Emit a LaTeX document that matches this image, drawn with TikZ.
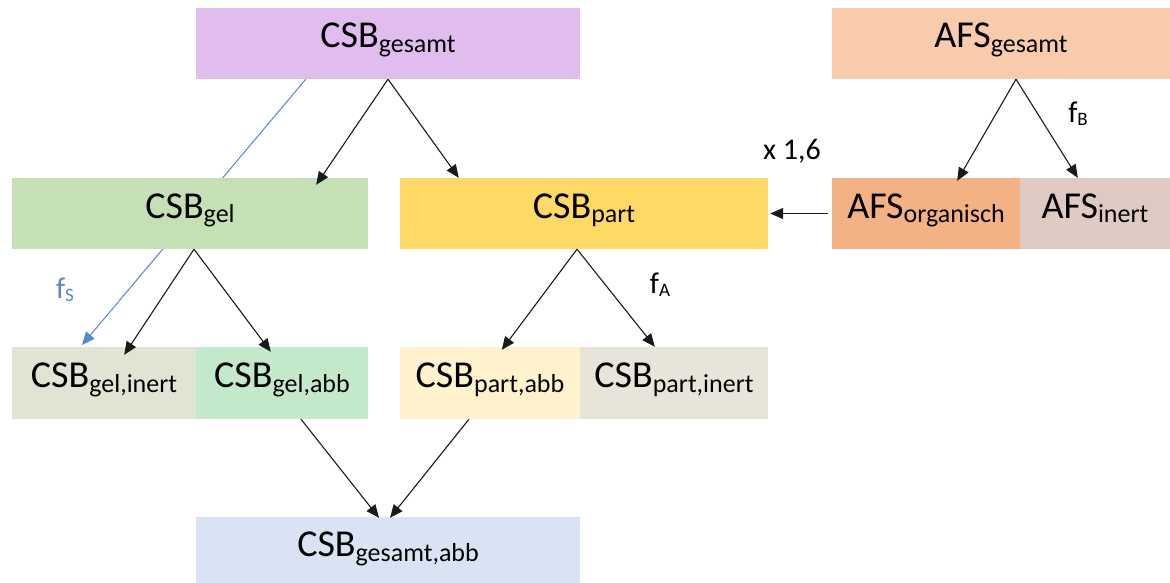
\documentclass[tikz,border=0pt]{standalone}
\usepackage{fontspec}
\setmainfont{Carlito}
\usetikzlibrary{arrows.meta}
\definecolor{cPurple}{HTML}{E1BDEF}
\definecolor{cPeach}{HTML}{F8CBAD}
\definecolor{cGreen}{HTML}{C5E0B4}
\definecolor{cYellow}{HTML}{FFD966}
\definecolor{cOrange}{HTML}{F4B183}
\definecolor{cRose}{HTML}{DFCAC3}
\definecolor{cGreyGreen}{HTML}{E0E4D3}
\definecolor{cMint}{HTML}{C4E8CA}
\definecolor{cCream}{HTML}{FFF2CC}
\definecolor{cBeige}{HTML}{E7E4D9}
\definecolor{cBlueBox}{HTML}{DAE3F3}
\definecolor{cBlueLine}{HTML}{5586D3}
\definecolor{cLine}{HTML}{1A1A1A}
\newcommand{\bigtxt}[2]{\fontsize{38}{38}\selectfont #1\raisebox{-5pt}{\fontsize{26}{26}\selectfont #2}}
\newcommand{\smalltxt}[2]{\fontsize{30}{30}\selectfont #1\raisebox{-3pt}{\fontsize{19}{19}\selectfont #2}}
\begin{document}
\begin{tikzpicture}[x=1pt,y=-1pt,
  box/.style={draw=none, inner sep=0pt, text height=21pt, text depth=12pt},
  arr/.style={draw=cLine, line width=1.1pt, -{Triangle[length=13pt,width=11pt]}},
  barr/.style={draw=cBlueLine, line width=1pt, -{Triangle[length=13pt,width=11pt]}},
  lab/.style={inner sep=0pt}]
\useasboundingbox (0,0) rectangle (1170,583);
\fill[white] (0,0) rectangle (1170,583);
% boxes
\node[box, fill=cPurple, minimum width=384pt, minimum height=71pt] (gesamt) at (388,43.5) {\bigtxt{CSB}{gesamt}};
\node[box, fill=cPeach, minimum width=338pt, minimum height=71pt] (afsg) at (1001,43.5) {\bigtxt{AFS}{gesamt}};
% blue line drawn behind gel box
\draw[barr] ([xshift=110pt]gesamt.south west) coordinate (bstart) -- (82,345) coordinate (bend);
\node[box, fill=cGreen, minimum width=356pt, minimum height=71pt] (gel) at (190,213.5) {\bigtxt{CSB}{gel}};
\node[box, fill=cYellow, minimum width=368pt, minimum height=71pt] (part) at (584,213.5) {\bigtxt{CSB}{part}};
\node[box, fill=cOrange, minimum width=188pt, minimum height=71pt] (afso) at (926,213.5) {\bigtxt{AFS}{organisch}};
\node[box, fill=cRose, minimum width=150pt, minimum height=71pt] (afsi) at (1095,213.5) {\bigtxt{AFS}{inert}};
\node[box, fill=cGreyGreen, minimum width=184pt, minimum height=72pt] (gelinert) at (104,383) {\bigtxt{CSB}{gel,inert}};
\node[box, fill=cMint, minimum width=172pt, minimum height=72pt] (gelabb) at (282,383) {\bigtxt{CSB}{gel,abb}};
\node[box, fill=cCream, minimum width=180pt, minimum height=72pt] (partabb) at (490,383) {\bigtxt{CSB}{part,abb}};
\node[box, fill=cBeige, minimum width=188pt, minimum height=72pt] (partinert) at (674,383) {\bigtxt{CSB}{part,inert}};
\node[box, fill=cBlueBox, minimum width=384pt, minimum height=70pt] (total) at (388,552) {\bigtxt{CSB}{gesamt,abb}};
% arrows
\draw[arr] (gesamt.south) -- ([xshift=-52pt,yshift=-7pt]gel.north east);
\draw[arr] (gesamt.south) -- ([xshift=59pt]part.north west);
\draw[arr] ([xshift=15pt]afsg.south) -- ([xshift=-63pt,yshift=-3pt]afso.north east);
\draw[arr] ([xshift=15pt]afsg.south) -- ([xshift=58pt]afsi.north west);
\draw[arr] ([xshift=4pt]gel.south) -- ([xshift=-72pt,yshift=-8pt]gelinert.north east);
\draw[arr] ([xshift=4pt]gel.south) -- ([xshift=75pt,yshift=-5pt]gelabb.north west);
\draw[arr] ([xshift=-7pt]part.south) -- ([xshift=102pt,yshift=-3pt]partabb.north west);
\draw[arr] ([xshift=-7pt]part.south) -- ([xshift=75pt]partinert.north west);
\draw[arr] ([xshift=19pt]gelabb.south) -- ([xshift=-9pt,yshift=-1pt]total.north);
\draw[arr] ([xshift=-21pt]partabb.south) -- ([xshift=2pt,yshift=-1pt]total.north);
\draw[arr, shorten <=4pt, shorten >=2pt] (afso.west) -- (part.east);
% labels
\node[lab, anchor=base] (fb) at (1078,123) {\smalltxt{f}{B}};
\node[lab, anchor=base] (x16) at (792,160) {\fontsize{30}{30}\selectfont x 1,6};
\node[lab, anchor=base] (fa) at (660,293) {\smalltxt{f}{A}};
\node[lab, anchor=base, text=cBlueLine] (fs) at (65,298) {\smalltxt{f}{S}};
\end{tikzpicture}
\end{document}
